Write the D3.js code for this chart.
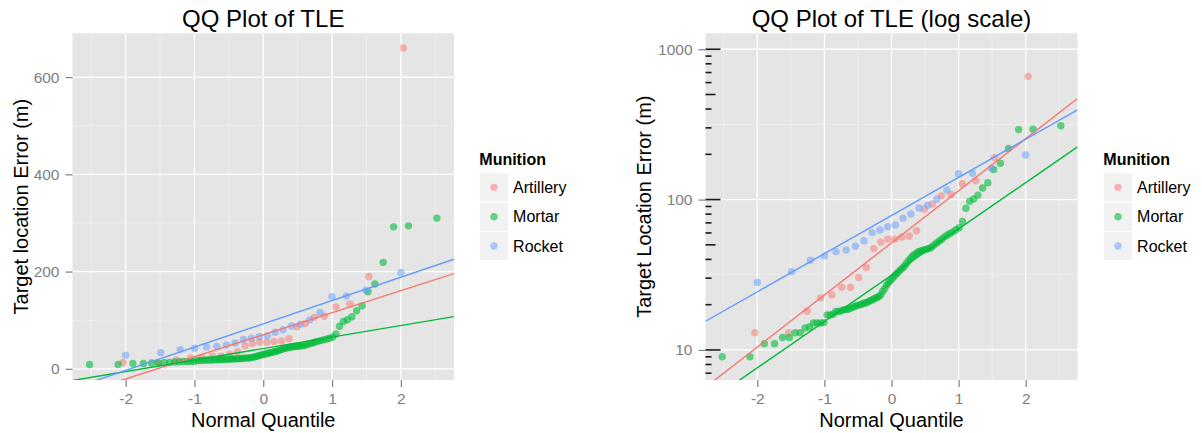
<!DOCTYPE html>
<html>
<head>
<meta charset="utf-8">
<script src="https://cdn.jsdelivr.net/npm/d3@7"></script>
<style>
  body { margin: 0; background: #ffffff; }
  text { font-family: "Liberation Sans", Arial, Helvetica, sans-serif; }
</style>
</head>
<body>
<svg id="chart" width="1202" height="433"></svg>
<script>
// ---- data -------------------------------------------------------------
const munitions = ["Artillery", "Mortar", "Rocket"];
const munitionColors = ["#F8766D", "#00BA38", "#619CFF"];

// sorted target location errors (m) for each munition type
const artilleryTLE = [13.0, 13.0, 18.1, 22.2, 23.2, 26.1, 26.1, 30.3, 35.3, 47.2,
  52.3, 54.6, 54.6, 56.4, 57.2, 62.0, 86.3, 93.3, 105.8, 108.2,
  127.4, 133.6, 190, 660];
const mortarTLE = [9.0, 9.0, 11.0, 11.0, 12.1, 12.1, 13.0, 13.0, 14.0, 14.2,
  15.1, 15.1, 15.1, 15.2, 17.1, 17.1, 17.3, 18.0, 18.0, 18.2,
  18.5, 18.6, 18.7, 19.0, 19.3, 19.6, 19.8, 20.0, 20.2, 20.5,
  20.6, 21.0, 21.3, 21.6, 22.0, 22.3, 22.6, 23.2, 24.5, 25.5,
  27.0, 28.0, 29.0, 30.0, 31.0, 32.0, 33.0, 34.0, 35.0, 36.0,
  37.5, 39.0, 40.5, 42.0, 43.0, 44.0, 45.0, 45.5, 46.0, 46.5,
  47.0, 47.5, 48.5, 50.0, 51.5, 53.0, 54.5, 56.5, 58.0, 59.5,
  61.0, 63.0, 65.0, 71.5, 87.5, 97.5, 101, 107, 119.5, 129.5,
  158.5, 174.5, 219, 292, 294, 310];
const rocketTLE = [28.1, 33.2, 39.5, 42.2, 45.1, 46.2, 49.0, 53.2, 60.3, 62.8,
  65.9, 67.8, 75.1, 80.2, 87.9, 91.8, 100.6, 116, 148.5, 149.5,
  161.7, 198];

// reference lines: TLE = intercept + slope * quantile
const linearLineIntercept = [70.0, 41.7, 92.5];
const linearLineSlope = [45.4, 23.7, 47.9];
// log panel: log10(TLE) = intercept + slope * quantile
const logLineIntercept = [1.712, 1.497, 1.894];
const logLineSlope = [0.3464, 0.308, 0.2537];

// axis ticks
const xTicks = [-2, -1, 0, 1, 2];
const xTickLabels = ["-2", "-1", "0", "1", "2"];
const xMinorTicks = [-2.5, -1.5, -0.5, 0.5, 1.5, 2.5];
const linearYTicks = [0, 200, 400, 600];
const linearYTickLabels = ["0", "200", "400", "600"];
const linearYMinorTicks = [100, 300, 500];
const logYTicks = [10, 100, 1000];
const logYTickLabels = ["10", "100", "1000"];
const logYMinorTicks = [31.6228, 316.228];

// ---- helpers -----------------------------------------------------------
// inverse standard normal CDF (Acklam's rational approximation)
function qnorm(p) {
  const a = [-3.969683028665376e+01, 2.209460984245205e+02, -2.759285104469687e+02,
             1.383577518672690e+02, -3.066479806614716e+01, 2.506628277459239e+00];
  const b = [-5.447609879822406e+01, 1.615858368580409e+02, -1.556989798598866e+02,
             6.680131188771972e+01, -1.328068155288572e+01];
  const c = [-7.784894002430293e-03, -3.223964580411365e-01, -2.400758277161838e+00,
             -2.549732539343734e+00, 4.374664141464968e+00, 2.938163982698783e+00];
  const d = [7.784695709041462e-03, 3.224671290700398e-01, 2.445134137142996e+00,
             3.754408661907416e+00];
  const pl = 0.02425;
  if (p < pl) {
    const q = Math.sqrt(-2 * Math.log(p));
    return (((((c[0]*q+c[1])*q+c[2])*q+c[3])*q+c[4])*q+c[5]) /
           ((((d[0]*q+d[1])*q+d[2])*q+d[3])*q+1);
  }
  if (p > 1 - pl) {
    const q = Math.sqrt(-2 * Math.log(1 - p));
    return -(((((c[0]*q+c[1])*q+c[2])*q+c[3])*q+c[4])*q+c[5]) /
            ((((d[0]*q+d[1])*q+d[2])*q+d[3])*q+1);
  }
  const q = p - 0.5, r = q * q;
  return (((((a[0]*r+a[1])*r+a[2])*r+a[3])*r+a[4])*r+a[5])*q /
         (((((b[0]*r+b[1])*r+b[2])*r+b[3])*r+b[4])*r+1);
}

// theoretical normal quantiles paired with the sorted sample (ppoints, a = 0.5)
function qqPoints(values, group) {
  const n = values.length;
  return values.map((v, i) => ({ q: qnorm((i + 0.5) / n), v, group }));
}

const seriesValues = [artilleryTLE, mortarTLE, rocketTLE];
const qqData = seriesValues.map((vals, g) => qqPoints(vals, g));

// ---- layout ------------------------------------------------------------
const svg = d3.select("#chart");
const panelTop = 33.3, panelBottom = 380;
const gridGrey = "#E5E5E5";
const axisGrey = "#7F7F7F";

function drawPanel(cfg) {
  const x = d3.scaleLinear().domain([-2.772, 2.772]).range([cfg.left, cfg.right]);
  const y = cfg.y;
  const g = svg.append("g");
  const clipId = "clip-" + cfg.id;

  g.append("clipPath").attr("id", clipId)
    .append("rect")
    .attr("x", cfg.left).attr("y", panelTop)
    .attr("width", cfg.right - cfg.left).attr("height", panelBottom - panelTop);

  // panel background
  g.append("rect")
    .attr("x", cfg.left).attr("y", panelTop)
    .attr("width", cfg.right - cfg.left).attr("height", panelBottom - panelTop)
    .attr("fill", gridGrey);

  // minor grid
  g.append("g").selectAll("line").data(xMinorTicks).join("line")
    .attr("x1", d => x(d)).attr("x2", d => x(d))
    .attr("y1", panelTop).attr("y2", panelBottom)
    .attr("stroke", "#F2F2F2").attr("stroke-width", 0.7);
  g.append("g").selectAll("line").data(cfg.yMinor).join("line")
    .attr("x1", cfg.left).attr("x2", cfg.right)
    .attr("y1", d => y(d)).attr("y2", d => y(d))
    .attr("stroke", "#F2F2F2").attr("stroke-width", 0.7);

  // major grid
  g.append("g").selectAll("line").data(xTicks).join("line")
    .attr("x1", d => x(d)).attr("x2", d => x(d))
    .attr("y1", panelTop).attr("y2", panelBottom)
    .attr("stroke", "#ffffff").attr("stroke-width", 1.3);
  g.append("g").selectAll("line").data(cfg.yTicks).join("line")
    .attr("x1", cfg.left).attr("x2", cfg.right)
    .attr("y1", d => y(d)).attr("y2", d => y(d))
    .attr("stroke", "#ffffff").attr("stroke-width", 1.3);

  const plot = g.append("g").attr("clip-path", `url(#${clipId})`);

  // points
  qqData.forEach((pts, gi) => {
    plot.append("g").selectAll("circle").data(pts).join("circle")
      .attr("cx", d => x(d.q))
      .attr("cy", d => y(d.v))
      .attr("r", 3.7)
      .attr("fill", munitionColors[gi])
      .attr("fill-opacity", gi === 1 ? 0.6 : 0.5);
  });

  // reference lines
  const qDomain = x.domain();
  munitions.forEach((m, gi) => {
    const ends = qDomain.map(q => ({ q, v: cfg.lineValue(gi, q) }));
    plot.append("line")
      .attr("x1", x(ends[0].q)).attr("y1", y(ends[0].v))
      .attr("x2", x(ends[1].q)).attr("y2", y(ends[1].v))
      .attr("stroke", munitionColors[gi]).attr("stroke-width", 1.4);
  });

  // log ticks annotation along the left edge
  if (cfg.logTicks) {
    const tickVals = [];
    [1, 10, 100, 1000].forEach(dec => {
      for (let k = 1; k <= 9; k++) tickVals.push({ v: k * dec, k });
    });
    const [lo, hi] = y.domain();
    g.append("g").selectAll("line")
      .data(tickVals.filter(t => t.v >= lo && t.v <= hi))
      .join("line")
      .attr("x1", cfg.left)
      .attr("x2", t => cfg.left + (t.k === 1 ? 15 : t.k === 5 ? 10 : 6))
      .attr("y1", t => y(t.v)).attr("y2", t => y(t.v))
      .attr("stroke", "#1a1a1a").attr("stroke-width", 1.6);
  }

  // axes
  const xAxis = d3.axisBottom(x).tickValues(xTicks)
    .tickFormat((d, i) => xTickLabels[i]).tickSize(7).tickPadding(6);
  const xg = g.append("g").attr("transform", `translate(0,${panelBottom})`).call(xAxis);
  const yAxis = d3.axisLeft(y).tickValues(cfg.yTicks)
    .tickFormat((d, i) => cfg.yTickLabels[i]).tickSize(7).tickPadding(6);
  const yg = g.append("g").attr("transform", `translate(${cfg.left},0)`).call(yAxis);
  [xg, yg].forEach(ax => {
    ax.select(".domain").remove();
    ax.selectAll(".tick line").attr("stroke", axisGrey).attr("stroke-width", 1.2);
    ax.selectAll(".tick text").attr("fill", axisGrey)
      .style("font-size", "15.5px");
  });

  const cx = (cfg.left + cfg.right) / 2;
  // title
  g.append("text").attr("x", cx).attr("y", 27)
    .attr("text-anchor", "middle").style("font-size", "24px").attr("fill", "#000")
    .text(cfg.title);
  // axis titles
  g.append("text").attr("x", cx).attr("y", 426.5)
    .attr("text-anchor", "middle").style("font-size", "20px").attr("fill", "#000")
    .text("Normal Quantile");
  g.append("text")
    .attr("transform", `translate(${cfg.yTitleX},${(panelTop + panelBottom) / 2}) rotate(-90)`)
    .attr("text-anchor", "middle").style("font-size", "20px").attr("fill", "#000")
    .text(cfg.yTitle);

  // legend
  const lg = g.append("g").attr("transform", `translate(${cfg.legendX},0)`);
  lg.append("text").attr("x", 0).attr("y", 165)
    .style("font-size", "16px").style("font-weight", "bold").attr("fill", "#000")
    .text("Munition");
  const keySize = 29.3;
  munitions.forEach((m, gi) => {
    const top = 172.7 + gi * keySize;
    lg.append("rect").attr("x", 0).attr("y", top)
      .attr("width", keySize).attr("height", keySize)
      .attr("fill", "#F2F2F2").attr("stroke", "#ffffff").attr("stroke-width", 1);
    lg.append("circle").attr("cx", keySize / 2).attr("cy", top + keySize / 2)
      .attr("r", 3.7).attr("fill", munitionColors[gi])
      .attr("fill-opacity", gi === 1 ? 0.6 : 0.5);
    lg.append("text").attr("x", keySize + 4.5).attr("y", top + keySize / 2 + 5.8)
      .style("font-size", "16px").attr("fill", "#000").text(m);
  });
}

drawPanel({
  id: "linear",
  left: 72.5, right: 454,
  y: d3.scaleLinear().domain([-23, 690]).range([panelBottom, panelTop]),
  yTicks: linearYTicks, yTickLabels: linearYTickLabels, yMinor: linearYMinorTicks,
  lineValue: (gi, q) => linearLineIntercept[gi] + linearLineSlope[gi] * q,
  title: "QQ Plot of TLE",
  yTitle: "Target location Error (m)", yTitleX: 27.5,
  legendX: 479.3,
  logTicks: false
});

drawPanel({
  id: "log",
  left: 705.5, right: 1077.5,
  y: d3.scaleLog().domain([Math.pow(10, 0.8), Math.pow(10, 3.106)]).range([panelBottom, panelTop]),
  yTicks: logYTicks, yTickLabels: logYTickLabels, yMinor: logYMinorTicks,
  lineValue: (gi, q) => Math.pow(10, logLineIntercept[gi] + logLineSlope[gi] * q),
  title: "QQ Plot of TLE (log scale)",
  yTitle: "Target Location Error (m)", yTitleX: 650.5,
  legendX: 1103.3,
  logTicks: true
});
</script>
</body>
</html>
